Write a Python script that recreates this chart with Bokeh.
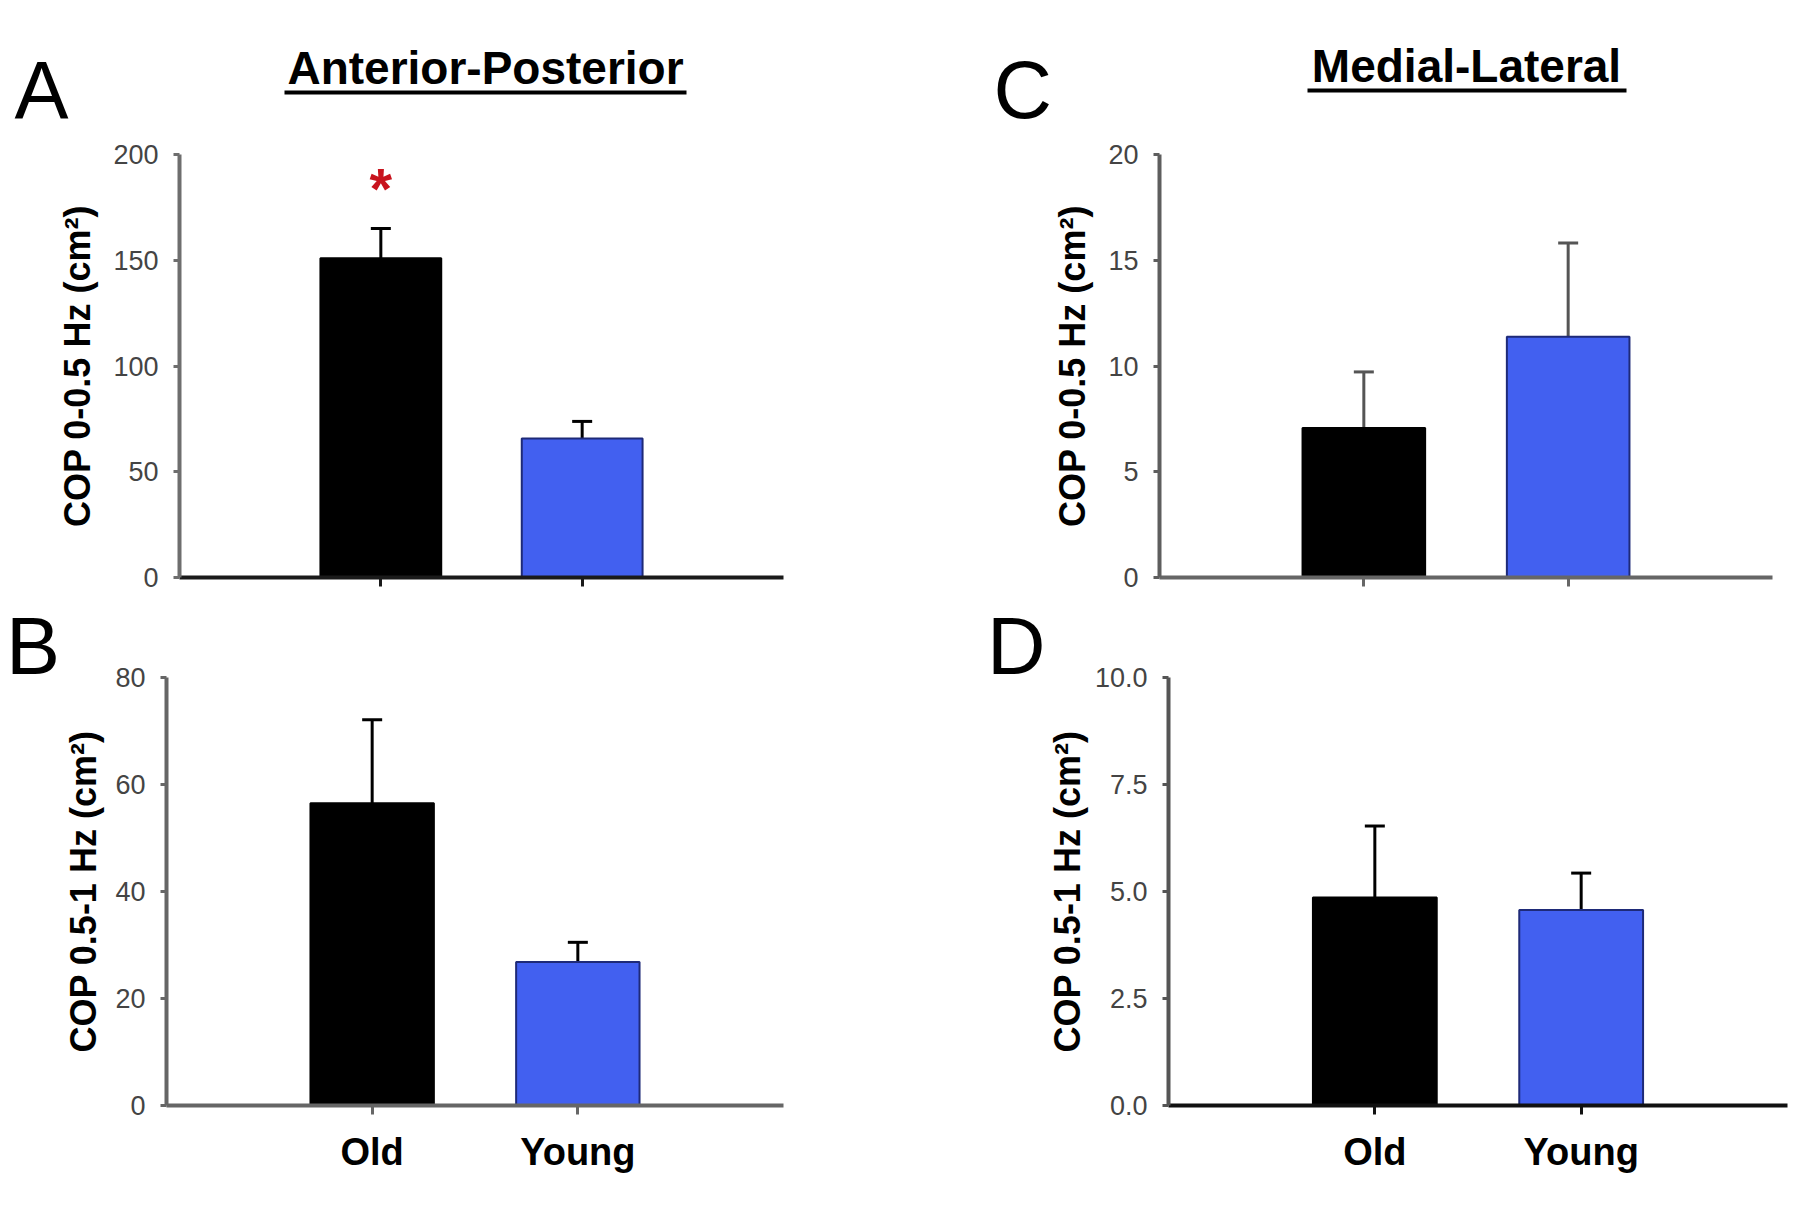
from bokeh.plotting import figure
from bokeh.models import (FactorRange, Range1d, Whisker, TeeHead, Div,
                          ColumnDataSource, FixedTicker, NumeralTickFormatter)
from bokeh.layouts import column, row
from bokeh.embed import file_html
from bokeh.resources import INLINE
from bokeh.core.properties import value

# ---------------- data ----------------
groups = ["Old", "Young"]
bar_colors = ["#000000", "#4260F0"]
bar_edges = ["#000000", "#1E2A78"]

ap_low_mean = [151.0, 65.7]     # A: COP 0-0.5 Hz, anterior-posterior
ap_low_sem = [14.0, 8.1]
ap_high_mean = [56.5, 26.8]     # B: COP 0.5-1 Hz, anterior-posterior
ap_high_sem = [15.6, 3.7]
ml_low_mean = [7.07, 11.38]     # C: COP 0-0.5 Hz, medial-lateral
ml_low_sem = [2.65, 4.43]
ml_high_mean = [4.86, 4.57]     # D: COP 0.5-1 Hz, medial-lateral
ml_high_sem = [1.67, 0.86]

ticks_a = [0, 50, 100, 150, 200]
ticks_b = [0, 20, 40, 60, 80]
ticks_c = [0, 5, 10, 15, 20]
ticks_d = [0, 2.5, 5.0, 7.5, 10.0]

label_low = "COP 0-0.5 Hz (cm\u00b2)"
label_high = "COP 0.5-1 Hz (cm\u00b2)"
titles = ["Anterior-Posterior", "Medial-Lateral"]
top_letters = ["A", "C"]

FONT = "Liberation Sans"
PAD = 0.5  # absolute padding of the factor range
TOTAL_W = 1800
HEADER_H = 135
TOP_H = 465
BOTTOM_H = 605
STRIP_B_W = 60
STRIP_D_W = 212
LETTER_SHIFT = 32   # baseline correction of the 81px letters
TITLE_SHIFT = 17    # baseline correction of the 46px titles


def make_panel(mean, sem, ticks, fmt, ylabel, width, height, borders,
               yaxis_color, xaxis_color, show_xlabels, err_color, label_standoff=12):
    left, right, top, bottom = borders
    p = figure(x_range=FactorRange(*groups, range_padding=PAD, range_padding_units="absolute"),
               y_range=Range1d(ticks[0], ticks[-1]),
               width=width, height=height, output_backend="svg", toolbar_location=None,
               min_border_left=left, min_border_right=right,
               min_border_top=top, min_border_bottom=bottom)
    p.outline_line_color = None
    p.grid.visible = False
    p.background_fill_color = "white"
    p.border_fill_color = "white"

    src = ColumnDataSource(dict(x=groups, top=mean, fill=bar_colors, edge=bar_edges,
                                upper=[m + s for m, s in zip(mean, sem)]))
    p.vbar(x="x", top="top", width=0.6, bottom=0, source=src,
           fill_color="fill", line_color="edge", line_width=2)
    w = Whisker(base="x", lower="top", upper="upper", source=src, dimension="height",
                line_color=err_color, line_width=3, lower_head=None,
                upper_head=TeeHead(size=20, line_color=err_color, line_width=3))
    p.add_layout(w)

    ya = p.yaxis[0]
    ya.ticker = FixedTicker(ticks=ticks)
    if fmt:
        ya.formatter = NumeralTickFormatter(format=fmt)
    ya.axis_line_color = yaxis_color
    ya.axis_line_width = 4
    ya.major_tick_line_color = yaxis_color
    ya.major_tick_line_width = 3
    ya.major_tick_out = 6
    ya.major_tick_in = 0
    ya.minor_tick_line_color = None
    ya.major_label_text_font = FONT
    ya.major_label_text_font_size = "27px"
    ya.major_label_text_color = "#444444"
    ya.major_label_standoff = 15
    ya.axis_label = ylabel
    ya.axis_label_text_font = FONT
    ya.axis_label_text_font_style = "bold"
    ya.axis_label_text_font_size = "36px"
    ya.axis_label_text_color = "#000000"
    ya.axis_label_standoff = label_standoff

    xa = p.xaxis[0]
    xa.axis_line_color = xaxis_color
    xa.axis_line_width = 4
    xa.major_tick_line_color = xaxis_color
    xa.major_tick_line_width = 3
    xa.major_tick_out = 9
    xa.major_tick_in = 0
    xa.minor_tick_line_color = None
    if show_xlabels:
        xa.major_label_text_font = FONT
        xa.major_label_text_font_style = "bold"
        xa.major_label_text_font_size = "38px"
        xa.major_label_text_color = "#000000"
        xa.major_label_standoff = 16
    else:
        xa.major_label_text_font_size = "1px"
        xa.major_label_text_color = None
        xa.major_label_standoff = 0
    return p


def strip(width, height):
    """A blank, axis-free figure whose frame is the whole strip, in pixel coordinates."""
    s = figure(width=width, height=height, x_range=Range1d(0, width),
               y_range=Range1d(height, 0), x_axis_type=None, y_axis_type=None,
               output_backend="svg", toolbar_location=None,
               min_border_left=0, min_border_right=0, min_border_top=0, min_border_bottom=0)
    s.outline_line_color = None
    s.grid.visible = False
    s.background_fill_color = "white"
    s.border_fill_color = "white"
    return s


def letter_div(txt, width, pad_left):
    html = ('<div style="font-family: \'Liberation Sans\', Arial, sans-serif; font-size: 81px; '
            'line-height: 81px; padding: 6px 0 0 %dpx; margin: 0; color: #000000; '
            'white-space: nowrap;">%s</div>' % (pad_left, txt))
    return Div(text=html, width=width, height=BOTTOM_H, margin=0)


# ---------------- header: panel letters A/C, column titles with underline ----------------
header = strip(TOTAL_W, HEADER_H)
header.text(x=[14, 993], y=[121 - LETTER_SHIFT, 121 - LETTER_SHIFT], text=top_letters,
            text_font=value(FONT), text_font_size="81px", text_color="#000000",
            text_align="left", text_baseline="alphabetic")
header.text(x=[485, 1466], y=[84 - TITLE_SHIFT, 82 - TITLE_SHIFT], text=titles,
            text_font=value(FONT), text_font_size="46px", text_font_style="bold",
            text_color="#000000", text_align="center", text_baseline="alphabetic")
header.segment(x0=[284, 1307], y0=[92, 90], x1=[686, 1626], y1=[92, 90],
               line_color="#000000", line_width=4)

# ---------------- side strips holding panel letters B/D ----------------
stripB = letter_div("B", STRIP_B_W, 6)
stripD = letter_div("D", STRIP_D_W, 157)

# ---------------- panels ----------------
# left column 830 px wide, right column 970 px
pA = make_panel(ap_low_mean, ap_low_sem, ticks_a, None, label_low,
                830, TOP_H, (179, 47, 19, 23), "#6E6E6E", "#1A1A1A", False, "#000000")
pC = make_panel(ml_low_mean, ml_low_sem, ticks_c, None, label_low,
                970, TOP_H, (329, 28, 19, 22), "#5E5E5E", "#666666", False, "#555555")
pB = make_panel(ap_high_mean, ap_high_sem, ticks_b, None, label_high,
                830 - STRIP_B_W, BOTTOM_H, (164 - STRIP_B_W, 47, 77, 100),
                "#666666", "#666666", True, "#000000", label_standoff=8)
pD = make_panel(ml_high_mean, ml_high_sem, ticks_d, "0.0", label_high,
                970 - STRIP_D_W, BOTTOM_H, (338 - STRIP_D_W, 13, 77, 98),
                "#555555", "#111111", True, "#000000", label_standoff=4)

# significance marker above the Old bar in panel A
star_offset = 19
pA.text(x=[groups[0]], y=[ap_low_mean[0] + ap_low_sem[0] + star_offset], text=["*"],
        text_color="#C8141E", text_font=value(FONT), text_font_size="58px",
        text_font_style="bold", text_align="center", text_baseline="alphabetic")

layout = column(header, row(pA, pC), row(stripB, pB, stripD, pD))

with open("out.html", "w") as f:
    f.write(file_html(layout, INLINE))
